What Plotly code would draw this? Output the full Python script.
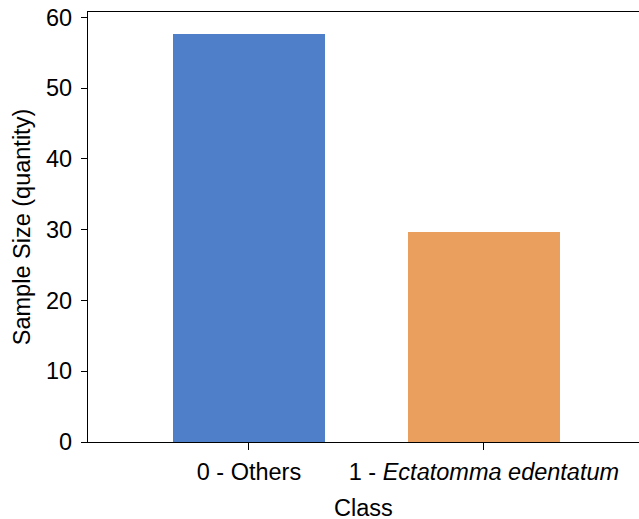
import plotly.graph_objects as go

categories = ["0 - Others", "1 - <i>Ectatomma edentatum</i>"]
values = [57.6, 29.7]
colors = ["#507FC9", "#EB9F5E"]
y_ticks = [0, 10, 20, 30, 40, 50, 60]

fig = go.Figure()
fig.add_trace(go.Bar(
    x=[0, 1], y=values, marker=dict(color=colors, line=dict(width=0)),
    width=0.65, showlegend=False,
))

font = dict(family="Liberation Sans, Arial, sans-serif", size=23.5, color="#000000")
fig.update_layout(
    width=639, height=519,
    margin=dict(l=88, r=0, t=12, b=77),
    plot_bgcolor="white", paper_bgcolor="white",
    font=font,
    bargap=0,
    xaxis=dict(
        range=[-0.685, 1.66],
        tickvals=[0, 1], ticktext=categories,
        tickfont=font,
        showline=True, linecolor="black", linewidth=1.3, mirror=True,
        ticks="outside", ticklen=7, tickcolor="black", tickwidth=1.3,
        showgrid=False, zeroline=False,
        automargin=False,
        ticklabelstandoff=2,
    ),
    yaxis=dict(
        range=[0, 60.75],
        tickvals=y_ticks,
        tickfont=font,
        showline=True, linecolor="black", linewidth=1.3,
        ticks="outside", ticklen=6, tickcolor="black", tickwidth=1.3,
        showgrid=False, zeroline=False,
        automargin=False,
        title=dict(text="Sample Size (quantity)", font=font, standoff=8),
        ticklabelstandoff=4,
    ),
    annotations=[dict(
        text="Class", xref="paper", yref="paper", x=0.5, y=0,
        xanchor="center", yanchor="middle", yshift=-66,
        showarrow=False, font=font,
    )],
)

fig.write_html("out.html", config={"displayModeBar": False},
               post_script="document.body.style.margin='0';")
